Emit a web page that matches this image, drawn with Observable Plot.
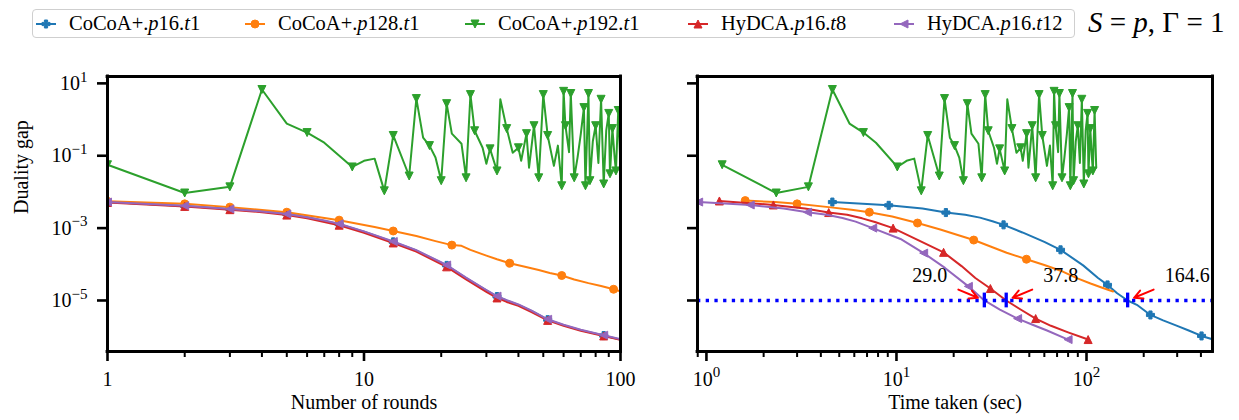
<!DOCTYPE html>
<html>
<head>
<meta charset="utf-8">
<script src="https://cdn.jsdelivr.net/npm/d3@7"></script>
<script src="https://cdn.jsdelivr.net/npm/@observablehq/plot@0.6"></script>
<style>
  body { margin: 0; background: #fff; }
  #wrap { position: relative; width: 1239px; height: 420px; font-family: "Liberation Serif", serif; overflow: hidden; }
  #wrap > svg { position: absolute; top: 0; }
  #legend { position: absolute; left: 32px; top: 9px; width: 1041px; height: 27px; border: 1px solid #cfcfcf; border-radius: 4px; background: #fff; }
  .entry { position: absolute; top: 0; height: 27px; display: flex; align-items: center; font-size: 20.5px; white-space: nowrap; }
  .entry svg { margin-right: 13px; }
  #title { position: absolute; left: 1088px; top: 8px; font-size: 29px; line-height: 1; white-space: nowrap; }
</style>
</head>
<body>
<div id="wrap">
  <div id="legend"></div>
  <div id="title"><i>S</i> = <i>p</i>, Γ = 1</div>
</div>
<script>
// ---------------- data ----------------
const seriesNames = ["CoCoA+.p16.t1", "CoCoA+.p128.t1", "CoCoA+.p192.t1", "HyDCA.p16.t8", "HyDCA.p16.t12"];
const seriesColors = ["#1f77b4", "#ff7f0e", "#2ca02c", "#d62728", "#9467bd"];

// Left panel: duality gap (log10) vs number of rounds
const blueRounds = [1,2,3,4,5,6,7,8,10,13,16,21,25,30,33,36,40,45,52,60,70,86,100];
const blueRoundsLogGap = [-2.28,-2.39,-2.47,-2.54,-2.61,-2.70,-2.80,-2.89,-3.10,-3.38,-3.62,-4.03,-4.38,-4.72,-4.89,-5.00,-5.12,-5.29,-5.53,-5.68,-5.82,-5.97,-6.08];
const blueRoundMarks = [1,2,3,5,8,13,21,33,52,86];

const redRounds = [1,2,3,4,5,6,7,8,10,13,16,21,25,30,33,36,40,45,52,60,70,86,100];
const redRoundsLogGap = [-2.29,-2.40,-2.49,-2.56,-2.64,-2.73,-2.83,-2.92,-3.13,-3.41,-3.65,-4.07,-4.42,-4.76,-4.93,-5.04,-5.15,-5.32,-5.55,-5.70,-5.84,-5.98,-6.09];
const redRoundMarks = [1,2,3,5,8,13,21,33,52,86];

const purpleRounds = [1,2,3,4,5,6,7,8,10,13,16,21,25,30,33,36,40,45,52,60,70,86,100];
const purpleRoundsLogGap = [-2.28,-2.38,-2.47,-2.54,-2.61,-2.70,-2.79,-2.88,-3.09,-3.37,-3.61,-4.02,-4.37,-4.71,-4.88,-4.99,-5.11,-5.28,-5.52,-5.67,-5.81,-5.96,-6.07];
const purpleRoundMarks = [1,2,3,5,8,13,21,33,52,86];

const orangeRounds = [1,2,3,5,8,11,13,16,19,22,24,26,30,33,37,42,48,53,59,66,75,84,94,100];
const orangeRoundsLogGap = [-2.26,-2.33,-2.42,-2.56,-2.78,-2.97,-3.08,-3.22,-3.36,-3.47,-3.49,-3.60,-3.76,-3.86,-3.97,-4.06,-4.16,-4.24,-4.31,-4.42,-4.52,-4.60,-4.69,-4.75];
const orangeRoundMarks = [1,2,3,5,8,13,22,37,59,94];

// Green run (diverging): round, log10 gap and the matching wall-clock time
const greenRounds = [1,2,3,4,5,6,7,9,10,11,12,13,15,16,17,18,19,20,21,22,24,25,26,27,29,30,31,33,34,36,38,40,41,43,44,46,48,50,52,55,57,59,60,61,63,64,66,68,70,72,73,75,76,78,80,82,84,86,88,90,91,93,95,96,98,100];
const greenLogGap = [-1.25,-2.03,-1.86,0.83,-0.11,-0.36,-0.64,-1.31,-1.14,-1.08,-1.97,-0.44,-1.56,0.58,-0.50,-0.72,-1.05,-1.69,0.44,-0.39,-0.67,-1.61,0.69,-0.31,-0.78,-1.22,-0.81,-1.42,0.56,-0.25,-0.92,-0.78,-1.14,-0.39,-1.33,-0.17,-1.61,0.69,-0.44,-1.28,-0.72,-1.83,0.78,-0.17,-0.90,0.72,-1.61,-1.05,-0.40,0.33,-1.83,0.72,-1.69,-0.60,-0.17,-1.20,0.56,-1.78,-0.30,0.17,-1.50,-0.25,-1.10,-1.42,0.25,-1.33];
const greenTime = [1.21,2.33,3.44,4.6,5.66,6.7,7.8,10.1,11.3,12.4,13.5,14.6,16.8,17.9,19.1,20.2,21.4,22.5,23.6,24.8,27.0,28.1,29.3,30.4,32.6,33.8,34.9,37.1,38.3,40.5,42.8,45.0,46.2,48.4,49.5,51.8,54.0,56.3,58.5,61.9,64.2,66.4,67.5,68.7,70.9,72.0,74.3,76.5,78.8,81.0,82.2,84.4,85.5,87.8,90.0,92.3,94.5,96.8,99.0,101.3,102.4,104.7,106.9,108.0,110.3,112.5];
const greenMarkRounds = [1,2,3,4,6,9,12,13,15,16,18,20,21,25,26,27,31,33,36,40,43,46,48,50,52,59,60,61,64,66,72,73,75,76,80,84,86,90,91,93,96,98];

// Right panel: duality gap (log10) vs time taken (sec)
const blueTime = [4.6,9.1,13.7,18.2,23,27.5,32,36.6,46,60,73,96,115,129,145,164.6,184,217,253,300,345,403,466];
const blueTimeLogGap = [-2.28,-2.37,-2.46,-2.57,-2.63,-2.71,-2.81,-2.91,-3.12,-3.38,-3.60,-4.03,-4.38,-4.57,-4.80,-5.00,-5.12,-5.40,-5.55,-5.70,-5.83,-5.98,-6.08];
const blueTimeMarks = [4.6,9.1,18.2,36.6,73,129,217,403];

const orangeTime = [1.6,2.3,3.0,4.4,5.8,7.2,9.5,12.9,17,21,25.5,31,38,48.3,60,75,89.6,105,120,138];
const orangeTimeLogGap = [-2.24,-2.28,-2.33,-2.42,-2.49,-2.56,-2.68,-2.86,-3.04,-3.19,-3.33,-3.50,-3.68,-3.86,-4.02,-4.20,-4.39,-4.53,-4.64,-4.75];
const orangeTimeMarks = [1.6,3.0,7.2,12.9,25.5,48.3];

const redTime = [1.17,2.25,3.3,4.4,5.5,6.6,7.7,9.6,13,17.7,22,26,31.2,37.8,45,54,65,80,102];
const redTimeLogGap = [-2.25,-2.36,-2.46,-2.57,-2.63,-2.73,-2.83,-3.00,-3.33,-3.67,-4.05,-4.38,-4.67,-5.00,-5.25,-5.50,-5.70,-5.88,-6.08];
const redTimeMarks = [1.17,2.25,4.4,9.6,17.7,31.2,54,102];

const purpleTime = [0.91,1.7,2.55,3.4,4.3,5.2,6.1,7.5,10.5,13.9,18,23.9,29,35,43.4,52,62,80];
const purpleTimeLogGap = [-2.28,-2.36,-2.46,-2.56,-2.63,-2.72,-2.82,-3.00,-3.30,-3.69,-4.10,-4.61,-5.00,-5.25,-5.50,-5.67,-5.83,-6.08];
const purpleTimeMarks = [0.91,1.7,3.4,7.5,13.9,23.9,43.4,80];

// Annotation: time at which each run reaches the target gap
const targetGap = 1e-5;
const crossTimes = [29.0, 37.8, 164.6];
const crossLabels = ["29.0", "37.8", "164.6"];
const crossSide = [-1, 1, 1];

// Ticks
const yMajorTicks = [10, 1e-1, 1e-3, 1e-5];
const roundMajorTicks = [1, 10, 100];
const roundMinorTicks = [2,3,4,5,6,7,8,9,20,30,40,50,60,70,80,90];
const timeMajorTicks = [1, 10, 100];
const timeMinorTicks = [0.9,2,3,4,5,6,7,8,9,20,30,40,50,60,70,80,90,200,300,400];

// ---------------- helpers ----------------
const pts = (xs, ls) => xs.map((x, i) => ({x, y: Math.pow(10, ls[i])}));
const pick = (data, marks) => data.filter(d => marks.includes(d.x));

function sym(fn) { return {draw(ctx, size) { fn(ctx, Math.sqrt(size / Math.PI)); }}; }
const symTriDown = sym((c, r) => { c.moveTo(-r, -r); c.lineTo(r, -r); c.lineTo(0, r); c.closePath(); });
const symTriUp = sym((c, r) => { c.moveTo(-r, r); c.lineTo(r, r); c.lineTo(0, -r); c.closePath(); });
const symTriLeft = sym((c, r) => { c.moveTo(r, -r); c.lineTo(r, r); c.lineTo(-r, 0); c.closePath(); });
const symPlusFilled = sym((c, r) => {
  const w = r * 0.4;
  c.moveTo(-w, -r); c.lineTo(w, -r); c.lineTo(w, -w); c.lineTo(r, -w); c.lineTo(r, w); c.lineTo(w, w);
  c.lineTo(w, r); c.lineTo(-w, r); c.lineTo(-w, w); c.lineTo(-r, w); c.lineTo(-r, -w); c.lineTo(-w, -w); c.closePath();
});
const symbols = [symPlusFilled, d3.symbolCircle, symTriDown, symTriUp, symTriLeft];

const yDomain = [Math.pow(10, -6.41), Math.pow(10, 1.19)];
const fmtPow = d => { const e = Math.round(Math.log10(d)); return "10^" + (e < 0 ? "\u2212" + (-e) : String(e)); };

const leftSeries = [
  {data: pts(blueRounds, blueRoundsLogGap), marks: blueRoundMarks},
  {data: pts(orangeRounds, orangeRoundsLogGap), marks: orangeRoundMarks},
  {data: pts(greenRounds, greenLogGap), marks: greenMarkRounds},
  {data: pts(redRounds, redRoundsLogGap), marks: redRoundMarks},
  {data: pts(purpleRounds, purpleRoundsLogGap), marks: purpleRoundMarks}
];
const greenRight = pts(greenTime, greenLogGap);
const greenRightMarks = greenTime.filter((t, i) => greenMarkRounds.includes(greenRounds[i]));
const rightSeries = [
  {data: pts(blueTime, blueTimeLogGap), marks: blueTimeMarks},
  {data: pts(orangeTime, orangeTimeLogGap), marks: orangeTimeMarks},
  {data: greenRight, marks: greenRightMarks},
  {data: pts(redTime, redTimeLogGap), marks: redTimeMarks},
  {data: pts(purpleTime, purpleTimeLogGap), marks: purpleTimeMarks}
];

function seriesMarks(series) {
  const out = [];
  series.forEach((s, i) => {
    out.push(Plot.line(s.data, {x: "x", y: "y", stroke: seriesColors[i], strokeWidth: 2, clip: true}));
    out.push(Plot.dot(pick(s.data, s.marks), {x: "x", y: "y", symbol: symbols[i], r: 4, fill: seriesColors[i], stroke: seriesColors[i], strokeWidth: 1, clip: true}));
  });
  return out;
}

function axisMarks(xMajor, xMinor, xFmt, yFmt, xDomain) {
  return [
    Plot.axisY({ticks: yMajorTicks, tickSize: 10, tickPadding: 10, strokeWidth: 2.6, tickFormat: yFmt, label: null}),
    Plot.axisX({ticks: xMinor, tickSize: 6, tickPadding: 0, strokeWidth: 2, tickFormat: () => "", label: null}),
    Plot.axisX({ticks: xMajor, tickSize: 10, tickPadding: 10, strokeWidth: 2.6, tickFormat: xFmt, label: null}),
    Plot.frame({stroke: "black", strokeWidth: 2.8}),
    Plot.ruleX(xDomain, {x: d => d, stroke: "black", strokeWidth: 2.8, strokeLinecap: "square"}),
    Plot.ruleY(yDomain, {y: d => d, stroke: "black", strokeWidth: 2.8, strokeLinecap: "square"})
  ];
}

const style = {fontFamily: "Liberation Serif, serif", fontSize: "20px", background: "transparent", overflow: "visible", color: "black"};

const roundDomain = [1, 100];
const left = Plot.plot({
  width: 650, height: 420,
  marginLeft: 107, marginRight: 30, marginTop: 76, marginBottom: 69,
  x: {type: "log", domain: roundDomain, label: null},
  y: {type: "log", domain: yDomain, label: null},
  style,
  marks: [
    ...seriesMarks(leftSeries),
    ...axisMarks(roundMajorTicks, roundMinorTicks, d => String(d), fmtPow, roundDomain),
    Plot.text(["Duality gap"], {frameAnchor: "left", dx: -86, rotate: -90, text: d => d, fontSize: 20}),
    Plot.text(["Number of rounds"], {frameAnchor: "bottom", dy: 57, text: d => d, fontSize: 20})
  ]
});

const timeDomain = [Math.pow(10, -0.047), Math.pow(10, 2.663)];
const ann = crossTimes.map((t, i) => ({t, label: crossLabels[i], side: crossSide[i]}));
const right = Plot.plot({
  width: 589, height: 420,
  marginLeft: 47, marginRight: 27, marginTop: 76, marginBottom: 69,
  x: {type: "log", domain: timeDomain, label: null},
  y: {type: "log", domain: yDomain, label: null},
  style,
  marks: [
    ...seriesMarks(rightSeries),
    Plot.ruleY([targetGap], {y: d => d, stroke: "#0000ff", strokeWidth: 3.3, strokeDasharray: "3.3,5.4"}),
    Plot.ruleX(ann, {x: "t", y1: () => targetGap / 1.6, y2: () => targetGap * 1.6, stroke: "#0000ff", strokeWidth: 3.3}),
    Plot.arrow(ann, {x1: d => d.t * Math.pow(1.37, d.side), y1: () => targetGap * 2.0, x2: "t", y2: () => targetGap,
      insetEnd: 7, stroke: "#ff0000", strokeWidth: 2, headLength: 9, headAngle: 55}),
    ...ann.map(a => Plot.text([a], {x: "t", y: () => targetGap, text: "label", dx: a.side * 37, dy: -25,
      textAnchor: a.side < 0 ? "end" : "start", fontSize: 20})),
    ...axisMarks(timeMajorTicks, timeMinorTicks, fmtPow, () => "", timeDomain),
    Plot.text(["Time taken (sec)"], {frameAnchor: "bottom", dy: 57, text: d => d, fontSize: 20})
  ]
});

function superscripts(svg) {
  d3.select(svg).selectAll('g[aria-label$="tick label"] text').each(function () {
    const m = this.textContent.match(/^10\^(.+)$/);
    if (!m) return;
    const t = d3.select(this);
    t.text("");
    t.append("tspan").text("10");
    t.append("tspan").attr("dy", "-0.55em").attr("font-size", "0.75em").text(m[1]);
  });
}
function strengthen(svg) {
  const s = d3.select(svg);
  s.selectAll('g[aria-label="y-axis tick"]').attr("stroke", "black").attr("stroke-width", 2.6);
  const xt = s.selectAll('g[aria-label="x-axis tick"]').nodes();
  xt.forEach((g, i) => d3.select(g).attr("stroke", "black").attr("stroke-width", i === 0 ? 2 : 2.6));
}
[left, right].forEach(svg => { superscripts(svg); strengthen(svg); });

const wrap = document.getElementById("wrap");
left.style.left = "0px";
right.style.left = "650px";
wrap.insertBefore(right, wrap.firstChild);
wrap.insertBefore(left, wrap.firstChild);

// ---------------- legend ----------------
const legend = document.getElementById("legend");
const legendHtml = ["CoCoA+.<i>p</i>16.<i>t</i>1", "CoCoA+.<i>p</i>128.<i>t</i>1", "CoCoA+.<i>p</i>192.<i>t</i>1", "HyDCA.<i>p</i>16.<i>t</i>8", "HyDCA.<i>p</i>16.<i>t</i>12"];
const legendLeft = [3, 212, 432, 655, 861];
seriesNames.forEach((name, i) => {
  const e = document.createElement("div");
  e.className = "entry";
  e.style.left = legendLeft[i] + "px";
  const s = d3.create("svg").attr("width", 20).attr("height", 20);
  s.append("line").attr("x1", 0).attr("x2", 20).attr("y1", 10).attr("y2", 10).attr("stroke", seriesColors[i]).attr("stroke-width", 2);
  s.append("path").attr("transform", "translate(10,10)").attr("d", d3.symbol(symbols[i], Math.PI * 16)())
    .attr("fill", seriesColors[i]).attr("stroke", seriesColors[i]).attr("stroke-width", 1);
  e.appendChild(s.node());
  const span = document.createElement("span");
  span.innerHTML = legendHtml[i];
  span.setAttribute("title", name);
  e.appendChild(span);
  legend.appendChild(e);
});
</script>
</body>
</html>
